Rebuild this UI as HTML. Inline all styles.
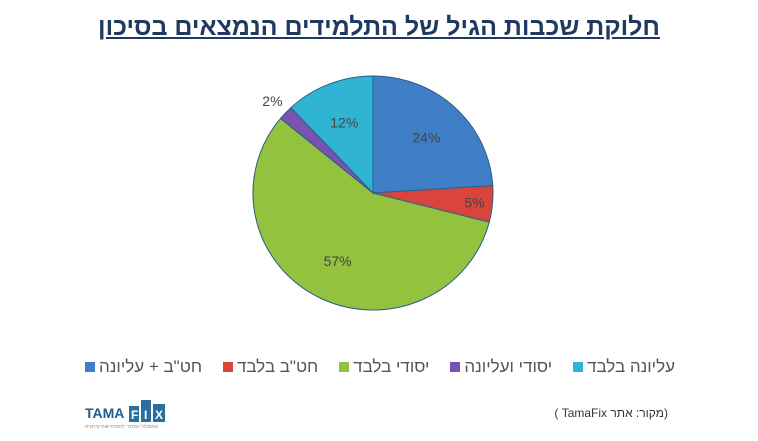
<!DOCTYPE html>
<html><head><meta charset="utf-8"><style>
body{margin:0;width:758px;height:441px;background:#fff;overflow:hidden;position:relative;font-family:"Liberation Sans","Noto Sans CJK SC",sans-serif}
#title{position:absolute;left:0;width:758px;top:13px;text-align:center;font-size:25px;font-weight:bold;color:#1f3a60;text-decoration:underline;direction:rtl}
#legend{position:absolute;top:357px;left:85px;width:590px;display:flex;flex-direction:row-reverse;justify-content:space-between;font-size:17px;color:#555;direction:rtl}
.le{display:flex;align-items:center;gap:4px}
.sw{width:10px;height:10px;display:inline-block}
#source{position:absolute;top:406px;right:90px;font-size:12px;color:#333;direction:rtl}
#logo{position:absolute;left:85px;top:398px;width:90px;height:32px}
</style></head><body>
<div id="title">חלוקת שכבות הגיל של התלמידים הנמצאים בסיכון</div>
<svg id="pie" width="758" height="441" style="position:absolute;left:0;top:0"></svg>
<div id="legend"></div>
<div id="source">(מקור: אתר TamaFix )</div>
<svg id="logo" viewBox="0 0 90 32">
<text x="0" y="20" font-size="14" font-weight="bold" fill="#1e5c8a" font-family="Liberation Sans">TAMA</text>
<rect x="44" y="8" width="10" height="16" fill="#2a6fa0"/><rect x="56" y="2" width="10" height="22" fill="#2a6fa0"/><rect x="68" y="6" width="12" height="18" fill="#2a6fa0"/>
<text x="46" y="21" font-size="12" font-weight="bold" fill="#fff" font-family="Liberation Sans">F</text>
<text x="59" y="21" font-size="12" font-weight="bold" fill="#fff" font-family="Liberation Sans">I</text>
<text x="70" y="21" font-size="12" font-weight="bold" fill="#fff" font-family="Liberation Sans">X</text>
<text x="0" y="30" font-size="5" fill="#888">המסלול המהיר להתחדשות עירונית</text>
</svg>
<script>
const categories=["חט\"ב + עליונה","חט\"ב בלבד","יסודי בלבד","יסודי ועליונה","עליונה בלבד"];
const values=[24,5,57,2,12];
const colors=["#3e7fc8","#d9443c","#92c23e","#7a52b0","#2fb4d4"];
const cx=373,cy=193,rx=120,ry=117;
const svg=document.getElementById('pie');
const NS="http://www.w3.org/2000/svg";
const total=values.reduce((a,b)=>a+b,0);
let a0=-Math.PI/2;
function pt(a,f){return [cx+rx*f*Math.cos(a),cy+ry*f*Math.sin(a)];}
values.forEach((v,i)=>{
  const a1=a0+v/total*2*Math.PI;
  const p0=pt(a0,1),p1=pt(a1,1);
  const large=(a1-a0)>Math.PI?1:0;
  const p=document.createElementNS(NS,'path');
  p.setAttribute('d',`M${cx},${cy} L${p0[0]},${p0[1]} A${rx},${ry} 0 ${large} 1 ${p1[0]},${p1[1]} Z`);
  p.setAttribute('fill',colors[i]);
  p.setAttribute('stroke','#2d5d8a');p.setAttribute('stroke-width','1');
  
  
  svg.appendChild(p);
  const am=(a0+a1)/2;
  const f=v<3?1.15:(v<8?0.85:0.65);
  const lp=pt(am,f);
  const t=document.createElementNS(NS,'text');
  t.setAttribute('x',lp[0]);t.setAttribute('y',lp[1]+5);
  t.setAttribute('text-anchor','middle');t.setAttribute('font-size','14');
  t.setAttribute('fill','#444');t.setAttribute('font-family','Liberation Sans');
  t.textContent=v+'%';
  
  
  svg.appendChild(t);
  a0=a1;
});
const lg=document.getElementById('legend');
categories.forEach((c,i)=>{
  const d=document.createElement('div');d.className='le';
  
  
  d.innerHTML=`<span>${c}</span><span class="sw" style="background:${colors[i]}"></span>`;
  lg.appendChild(d);
});
</script>
</body></html>
